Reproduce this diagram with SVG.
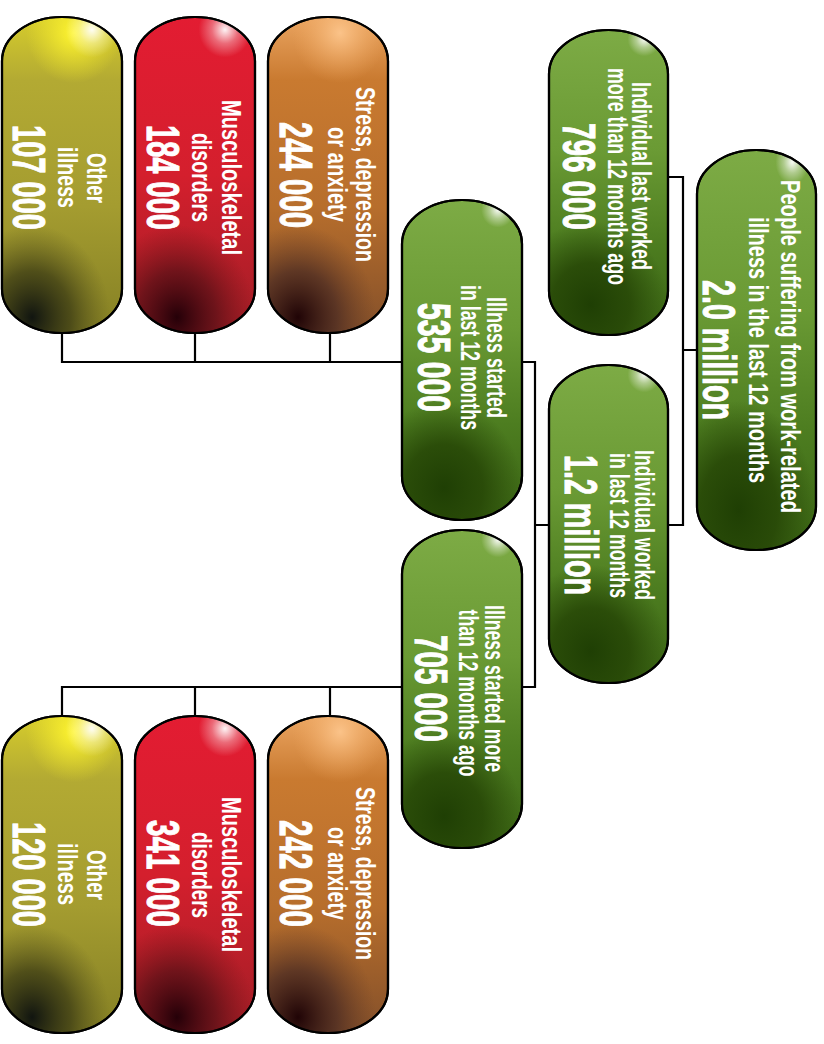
<svg xmlns="http://www.w3.org/2000/svg" width="824" height="1044" viewBox="0 0 824 1044">
<defs>
<linearGradient id="gG" x1="0" y1="0" x2="0" y2="1">
<stop offset="0" stop-color="#7dab45"/><stop offset="0.4" stop-color="#6a9a34"/><stop offset="0.7" stop-color="#4d7d20"/><stop offset="1" stop-color="#3a6414"/>
</linearGradient>
<radialGradient id="gD" cx="0.35" cy="0.9" r="0.65" gradientTransform="translate(0.35 0.9) scale(1 0.42) translate(-0.35 -0.9)">
<stop offset="0" stop-color="#1f3f04" stop-opacity="1"/><stop offset="0.5" stop-color="#264606" stop-opacity="0.85"/><stop offset="1" stop-color="#2a4a08" stop-opacity="0"/>
</radialGradient>
<radialGradient id="hW" cx="0.8" cy="0.03" r="0.14" gradientTransform="translate(0.8 0.03) scale(1 0.4) translate(-0.8 -0.03)">
<stop offset="0" stop-color="#ffffff" stop-opacity="0.95"/><stop offset="0.5" stop-color="#ffffff" stop-opacity="0.4"/><stop offset="1" stop-color="#ffffff" stop-opacity="0"/>
</radialGradient>
<linearGradient id="gY" x1="0" y1="0" x2="0" y2="1">
<stop offset="0" stop-color="#d6cc2c"/><stop offset="0.2" stop-color="#b3aa33"/><stop offset="0.6" stop-color="#a49c30"/><stop offset="1" stop-color="#858024"/>
</linearGradient>
<radialGradient id="yH" cx="0.6" cy="0.05" r="0.4" gradientTransform="translate(0.6 0.05) scale(1 0.4) translate(-0.6 -0.05)">
<stop offset="0" stop-color="#fff530" stop-opacity="1"/><stop offset="1" stop-color="#f4ea2a" stop-opacity="0"/>
</radialGradient>
<radialGradient id="yD" cx="0.25" cy="0.95" r="0.65" gradientTransform="translate(0.25 0.95) scale(1 0.45) translate(-0.25 -0.95)">
<stop offset="0" stop-color="#111510"/><stop offset="0.5" stop-color="#3a3a14" stop-opacity="0.75"/><stop offset="1" stop-color="#5a561c" stop-opacity="0"/>
</radialGradient>
<linearGradient id="gR" x1="0" y1="0" x2="0" y2="1">
<stop offset="0" stop-color="#e31c32"/><stop offset="0.5" stop-color="#d41f2d"/><stop offset="1" stop-color="#a11e26"/>
</linearGradient>
<radialGradient id="rD" cx="0.35" cy="0.95" r="0.65" gradientTransform="translate(0.35 0.95) scale(1 0.45) translate(-0.35 -0.95)">
<stop offset="0" stop-color="#250008"/><stop offset="0.5" stop-color="#5a1016" stop-opacity="0.75"/><stop offset="1" stop-color="#7a1418" stop-opacity="0"/>
</radialGradient>
<radialGradient id="cH" cx="0.75" cy="0.04" r="0.22" gradientTransform="translate(0.75 0.04) scale(1 0.4) translate(-0.75 -0.04)">
<stop offset="0" stop-color="#ffffff" stop-opacity="0.95"/><stop offset="0.5" stop-color="#ffffff" stop-opacity="0.35"/><stop offset="1" stop-color="#ffffff" stop-opacity="0"/>
</radialGradient>
<linearGradient id="gO" x1="0" y1="0" x2="0" y2="1">
<stop offset="0" stop-color="#eaa460"/><stop offset="0.2" stop-color="#c97a30"/><stop offset="0.6" stop-color="#b76e2c"/><stop offset="1" stop-color="#84502a"/>
</linearGradient>
<radialGradient id="oD" cx="0.25" cy="0.95" r="0.65" gradientTransform="translate(0.25 0.95) scale(1 0.45) translate(-0.25 -0.95)">
<stop offset="0" stop-color="#200406"/><stop offset="0.5" stop-color="#4a2a22" stop-opacity="0.75"/><stop offset="1" stop-color="#6a3e26" stop-opacity="0"/>
</radialGradient>
<radialGradient id="oH" cx="0.6" cy="0.05" r="0.4" gradientTransform="translate(0.6 0.05) scale(1 0.4) translate(-0.6 -0.05)">
<stop offset="0" stop-color="#fbc389" stop-opacity="1"/><stop offset="1" stop-color="#f0a860" stop-opacity="0"/>
</radialGradient>
</defs>
<style>
.pill{stroke:#000;stroke-width:2.2}
.ov{stroke:none}
.lbl{font-family:"Liberation Sans",Arial,sans-serif;font-weight:bold;font-size:28px;fill:#fff;text-anchor:middle}
.num{font-family:"Liberation Sans",Arial,sans-serif;font-weight:bold;font-size:47px;fill:#fff;stroke:#fff;stroke-width:1;text-anchor:middle}
.con{fill:none;stroke:#000;stroke-width:2.2}
</style>
<rect width="824" height="1044" fill="#fff"/>
<g id="connectors">
<path class="con" d="M697 350H683M668 177H683V525H668"/>
<path class="con" d="M549 525H535M522 362H535V687H522"/>
<path class="con" d="M402 362H62V333M195 362V333M330 362V333"/>
<path class="con" d="M402 687H62V716M195 687V716M330 687V716"/>
</g>
<g id="n-root">
<rect class="pill" x="697" y="150" width="119" height="400" rx="60" ry="44" fill="url(#gG)"/>
<rect class="ov" x="697" y="150" width="119" height="400" rx="60" ry="44" fill="url(#gD)"/>
<rect class="ov" x="697" y="150" width="119" height="400" rx="60" ry="44" fill="url(#hW)"/>
<rect x="697" y="150" width="119" height="400" rx="60" ry="44" fill="none" stroke="#000" stroke-width="2.2"/>
<text class="lbl" transform="translate(781 346.5) rotate(90)" textLength="333" lengthAdjust="spacingAndGlyphs">People suffering from work-related</text>
<text class="lbl" transform="translate(749 350) rotate(90)" textLength="266" lengthAdjust="spacingAndGlyphs">illness in the last 12 months</text>
<text class="num" transform="translate(703 350) rotate(90)" textLength="140" lengthAdjust="spacingAndGlyphs">2.0 million</text>
</g>
<g id="n-more12">
<rect class="pill" x="549" y="30" width="119" height="305" rx="60" ry="44" fill="url(#gG)"/>
<rect class="ov" x="549" y="30" width="119" height="305" rx="60" ry="44" fill="url(#gD)"/>
<rect class="ov" x="549" y="30" width="119" height="305" rx="60" ry="44" fill="url(#hW)"/>
<rect x="549" y="30" width="119" height="305" rx="60" ry="44" fill="none" stroke="#000" stroke-width="2.2"/>
<text class="lbl" transform="translate(632 176) rotate(90)" textLength="188" lengthAdjust="spacingAndGlyphs">Individual last worked</text>
<text class="lbl" transform="translate(608 176.5) rotate(90)" textLength="217" lengthAdjust="spacingAndGlyphs">more than 12 months ago</text>
<text class="num" transform="translate(563 176.5) rotate(90)" textLength="107" lengthAdjust="spacingAndGlyphs">796 000</text>
</g>
<g id="n-last12">
<rect class="pill" x="549" y="365" width="119" height="318" rx="60" ry="44" fill="url(#gG)"/>
<rect class="ov" x="549" y="365" width="119" height="318" rx="60" ry="44" fill="url(#gD)"/>
<rect class="ov" x="549" y="365" width="119" height="318" rx="60" ry="44" fill="url(#hW)"/>
<rect x="549" y="365" width="119" height="318" rx="60" ry="44" fill="none" stroke="#000" stroke-width="2.2"/>
<text class="lbl" transform="translate(635 525) rotate(90)" textLength="150" lengthAdjust="spacingAndGlyphs">Individual worked</text>
<text class="lbl" transform="translate(610 525.5) rotate(90)" textLength="145" lengthAdjust="spacingAndGlyphs">in last 12 months</text>
<text class="num" transform="translate(565 525) rotate(90)" textLength="140" lengthAdjust="spacingAndGlyphs">1.2 million</text>
</g>
<g id="n-started12">
<rect class="pill" x="402" y="200" width="120" height="320" rx="60" ry="44" fill="url(#gG)"/>
<rect class="ov" x="402" y="200" width="120" height="320" rx="60" ry="44" fill="url(#gD)"/>
<rect class="ov" x="402" y="200" width="120" height="320" rx="60" ry="44" fill="url(#hW)"/>
<rect x="402" y="200" width="120" height="320" rx="60" ry="44" fill="none" stroke="#000" stroke-width="2.2"/>
<text class="lbl" transform="translate(487 357.5) rotate(90)" textLength="121" lengthAdjust="spacingAndGlyphs">Illness started</text>
<text class="lbl" transform="translate(461 357.5) rotate(90)" textLength="145" lengthAdjust="spacingAndGlyphs">in last 12 months</text>
<text class="num" transform="translate(418 357.5) rotate(90)" textLength="109" lengthAdjust="spacingAndGlyphs">535 000</text>
</g>
<g id="n-startedmore">
<rect class="pill" x="402" y="530" width="120" height="318" rx="60" ry="44" fill="url(#gG)"/>
<rect class="ov" x="402" y="530" width="120" height="318" rx="60" ry="44" fill="url(#gD)"/>
<rect class="ov" x="402" y="530" width="120" height="318" rx="60" ry="44" fill="url(#hW)"/>
<rect x="402" y="530" width="120" height="318" rx="60" ry="44" fill="none" stroke="#000" stroke-width="2.2"/>
<text class="lbl" transform="translate(485 688.5) rotate(90)" textLength="167" lengthAdjust="spacingAndGlyphs">Illness started more</text>
<text class="lbl" transform="translate(459 693) rotate(90)" textLength="167" lengthAdjust="spacingAndGlyphs">than 12 months ago</text>
<text class="num" transform="translate(415 688.5) rotate(90)" textLength="107" lengthAdjust="spacingAndGlyphs">705 000</text>
</g>
<g id="n-top-other">
<rect class="pill" x="2" y="17" width="120" height="316" rx="60" ry="44" fill="url(#gY)"/>
<rect class="ov" x="2" y="17" width="120" height="316" rx="60" ry="44" fill="url(#yH)"/>
<rect class="ov" x="2" y="17" width="120" height="316" rx="60" ry="44" fill="url(#yD)"/>
<rect class="ov" x="2" y="17" width="120" height="316" rx="60" ry="44" fill="url(#cH)"/>
<rect x="2" y="17" width="120" height="316" rx="60" ry="44" fill="none" stroke="#000" stroke-width="2.2"/>
<text class="lbl" transform="translate(87 178) rotate(90)" textLength="50" lengthAdjust="spacingAndGlyphs">Other</text>
<text class="lbl" transform="translate(58 177.5) rotate(90)" textLength="61" lengthAdjust="spacingAndGlyphs">illness</text>
<text class="num" transform="translate(13 177.5) rotate(90)" textLength="105" lengthAdjust="spacingAndGlyphs">107 000</text>
</g>
<g id="n-top-msd">
<rect class="pill" x="135" y="17" width="120" height="316" rx="60" ry="44" fill="url(#gR)"/>
<rect class="ov" x="135" y="17" width="120" height="316" rx="60" ry="44" fill="url(#rD)"/>
<rect class="ov" x="135" y="17" width="120" height="316" rx="60" ry="44" fill="url(#cH)"/>
<rect x="135" y="17" width="120" height="316" rx="60" ry="44" fill="none" stroke="#000" stroke-width="2.2"/>
<text class="lbl" transform="translate(222 177.5) rotate(90)" textLength="155" lengthAdjust="spacingAndGlyphs">Musculoskeletal</text>
<text class="lbl" transform="translate(192 177.5) rotate(90)" textLength="89" lengthAdjust="spacingAndGlyphs">disorders</text>
<text class="num" transform="translate(147 177.5) rotate(90)" textLength="105" lengthAdjust="spacingAndGlyphs">184 000</text>
</g>
<g id="n-top-stress">
<rect class="pill" x="268" y="17" width="120" height="316" rx="60" ry="44" fill="url(#gO)"/>
<rect class="ov" x="268" y="17" width="120" height="316" rx="60" ry="44" fill="url(#oH)"/>
<rect class="ov" x="268" y="17" width="120" height="316" rx="60" ry="44" fill="url(#oD)"/>
<rect x="268" y="17" width="120" height="316" rx="60" ry="44" fill="none" stroke="#000" stroke-width="2.2"/>
<text class="lbl" transform="translate(356 174.5) rotate(90)" textLength="175" lengthAdjust="spacingAndGlyphs">Stress, depression</text>
<text class="lbl" transform="translate(328 174.5) rotate(90)" textLength="95" lengthAdjust="spacingAndGlyphs">or anxiety</text>
<text class="num" transform="translate(280 175) rotate(90)" textLength="106" lengthAdjust="spacingAndGlyphs">244 000</text>
</g>
<g id="n-bot-other">
<rect class="pill" x="2" y="716" width="120" height="317" rx="60" ry="44" fill="url(#gY)"/>
<rect class="ov" x="2" y="716" width="120" height="317" rx="60" ry="44" fill="url(#yH)"/>
<rect class="ov" x="2" y="716" width="120" height="317" rx="60" ry="44" fill="url(#yD)"/>
<rect class="ov" x="2" y="716" width="120" height="317" rx="60" ry="44" fill="url(#cH)"/>
<rect x="2" y="716" width="120" height="317" rx="60" ry="44" fill="none" stroke="#000" stroke-width="2.2"/>
<text class="lbl" transform="translate(87 875) rotate(90)" textLength="50" lengthAdjust="spacingAndGlyphs">Other</text>
<text class="lbl" transform="translate(58 874) rotate(90)" textLength="62" lengthAdjust="spacingAndGlyphs">illness</text>
<text class="num" transform="translate(13 874.5) rotate(90)" textLength="105" lengthAdjust="spacingAndGlyphs">120 000</text>
</g>
<g id="n-bot-msd">
<rect class="pill" x="135" y="716" width="120" height="317" rx="60" ry="44" fill="url(#gR)"/>
<rect class="ov" x="135" y="716" width="120" height="317" rx="60" ry="44" fill="url(#rD)"/>
<rect class="ov" x="135" y="716" width="120" height="317" rx="60" ry="44" fill="url(#cH)"/>
<rect x="135" y="716" width="120" height="317" rx="60" ry="44" fill="none" stroke="#000" stroke-width="2.2"/>
<text class="lbl" transform="translate(222 874.5) rotate(90)" textLength="155" lengthAdjust="spacingAndGlyphs">Musculoskeletal</text>
<text class="lbl" transform="translate(192 875) rotate(90)" textLength="86" lengthAdjust="spacingAndGlyphs">disorders</text>
<text class="num" transform="translate(147 873.5) rotate(90)" textLength="107" lengthAdjust="spacingAndGlyphs">341 000</text>
</g>
<g id="n-bot-stress">
<rect class="pill" x="268" y="716" width="120" height="317" rx="60" ry="44" fill="url(#gO)"/>
<rect class="ov" x="268" y="716" width="120" height="317" rx="60" ry="44" fill="url(#oH)"/>
<rect class="ov" x="268" y="716" width="120" height="317" rx="60" ry="44" fill="url(#oD)"/>
<rect x="268" y="716" width="120" height="317" rx="60" ry="44" fill="none" stroke="#000" stroke-width="2.2"/>
<text class="lbl" transform="translate(356 873.5) rotate(90)" textLength="173" lengthAdjust="spacingAndGlyphs">Stress, depression</text>
<text class="lbl" transform="translate(328 873.5) rotate(90)" textLength="93" lengthAdjust="spacingAndGlyphs">or anxiety</text>
<text class="num" transform="translate(280 873.5) rotate(90)" textLength="107" lengthAdjust="spacingAndGlyphs">242 000</text>
</g>
</svg>
